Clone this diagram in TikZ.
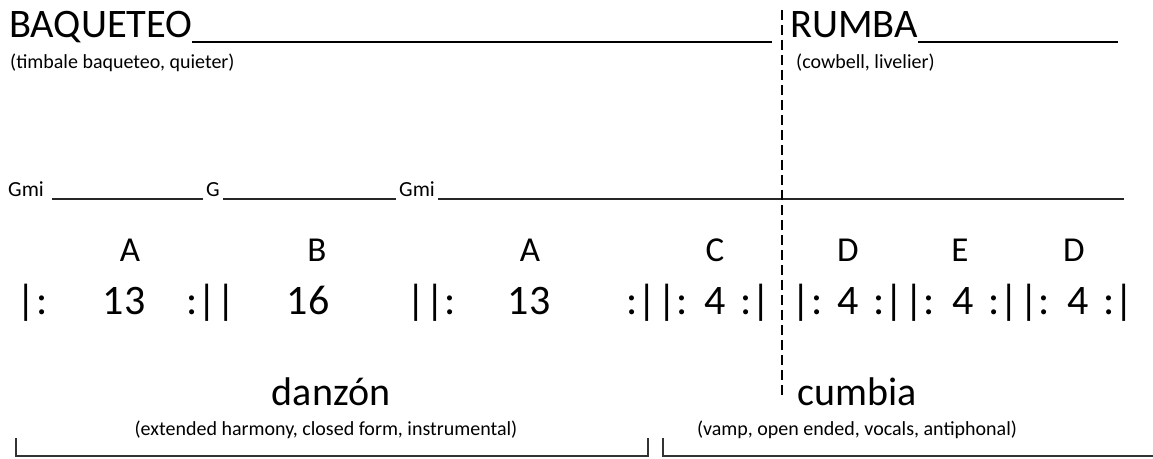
\documentclass[tikz,border=0pt]{standalone}
\usepackage{fontspec}
\setmainfont{Carlito}
\begin{document}
\begin{tikzpicture}[x=1pt,y=-1pt,
  title/.style={font=\fontsize{40.5}{42}\selectfont, anchor=base west, inner sep=0pt},
  note/.style={font=\fontsize{20}{22}\selectfont, anchor=base west, inner sep=0pt},
  chord/.style={font=\fontsize{21.5}{23}\selectfont, anchor=base west, inner sep=0pt},
  sect/.style={font=\fontsize{35}{37}\selectfont, anchor=base, inner sep=0pt},
  num/.style={font=\fontsize{42}{44}\selectfont, anchor=base, inner sep=0pt},
  genre/.style={font=\fontsize{40}{42}\selectfont, anchor=base, inner sep=0pt},
  sub/.style={font=\fontsize{20}{22}\selectfont, anchor=base, inner sep=0pt},
  uline/.style={line width=2.2pt},
  chline/.style={line width=1.3pt, black!85},
  bracket/.style={line width=2pt, black!80},
  divider/.style={line width=2.4pt, dash pattern=on 10pt off 5pt}
]
\useasboundingbox (0,0) rectangle (1153,458);
% titles
\node[title] (baq) at (9,37) {BAQUETEO};
\draw[uline] (192,42) coordinate (baqs) -- (772,42) coordinate (baqe);
\node[title] (rum) at (790,37) {RUMBA};
\draw[uline] (918,42) coordinate (rums) -- (1118,42) coordinate (rume);
\node[note] (baqn) at (10,68) {(timbale baqueteo, quieter)};
\node[note] (rumn) at (796,68) {(cowbell, livelier)};
% chords
\node[chord] (c1) at (8,196) {Gmi};
\draw[chline] (52,199) -- (203,199);
\node[chord] (c2) at (206,196) {G};
\draw[chline] (223,199) -- (396,199);
\node[chord] (c3) at (399,196) {Gmi};
\draw[chline] (438,199) -- (1124,199);
% section letters
\node[sect] (sA1) at (130,261) {A};
\node[sect] (sB) at (317,261) {B};
\node[sect] (sA2) at (530,261) {A};
\node[sect] (sC) at (715,261) {C};
\node[sect] (sD1) at (848,261) {D};
\node[sect] (sE) at (960,261) {E};
\node[sect] (sD2) at (1074,261) {D};
% bar counts
\node[num] (n1) at (32,314) {|:};
\node[num] (n2) at (124,314) {13};
\node[num] (n3) at (211,314) {:||};
\node[num] (n4) at (308,314) {16};
\node[num] (n5) at (431,314) {||:};
\node[num] (n6) at (529,314) {13};
\node[num] (n7) at (657,314) {:||:};
\node[num] (n8) at (715,314) {4};
\node[num] (n9) at (756,314) {:|};
\node[num] (n10) at (807,314) {|:};
\node[num] (n11) at (848,314) {4};
\node[num] (n12) at (904,314) {:||:};
\node[num] (n13) at (963,314) {4};
\node[num] (n14) at (1019,314) {:||:};
\node[num] (n15) at (1078,314) {4};
\node[num] (n16) at (1119,314) {:|};
% genres
\node[genre] (dan) at (331,405) {danzón};
\node[genre] (cum) at (857,405) {cumbia};
\node[sub] (dans) at (326,435) {(extended harmony, closed form, instrumental)};
\node[sub] (cums) at (857,435) {(vamp, open ended, vocals, antiphonal)};
% divider
\draw[divider] (782,10) coordinate (dvt) -- (782,395) coordinate (dvb);
% brackets
\draw[bracket] (16,438) -- (16,456) -- (648,456) -- (648,438);
\draw[bracket] (663,438) -- (663,456) -- (1153,456);
\end{tikzpicture}
\end{document}
